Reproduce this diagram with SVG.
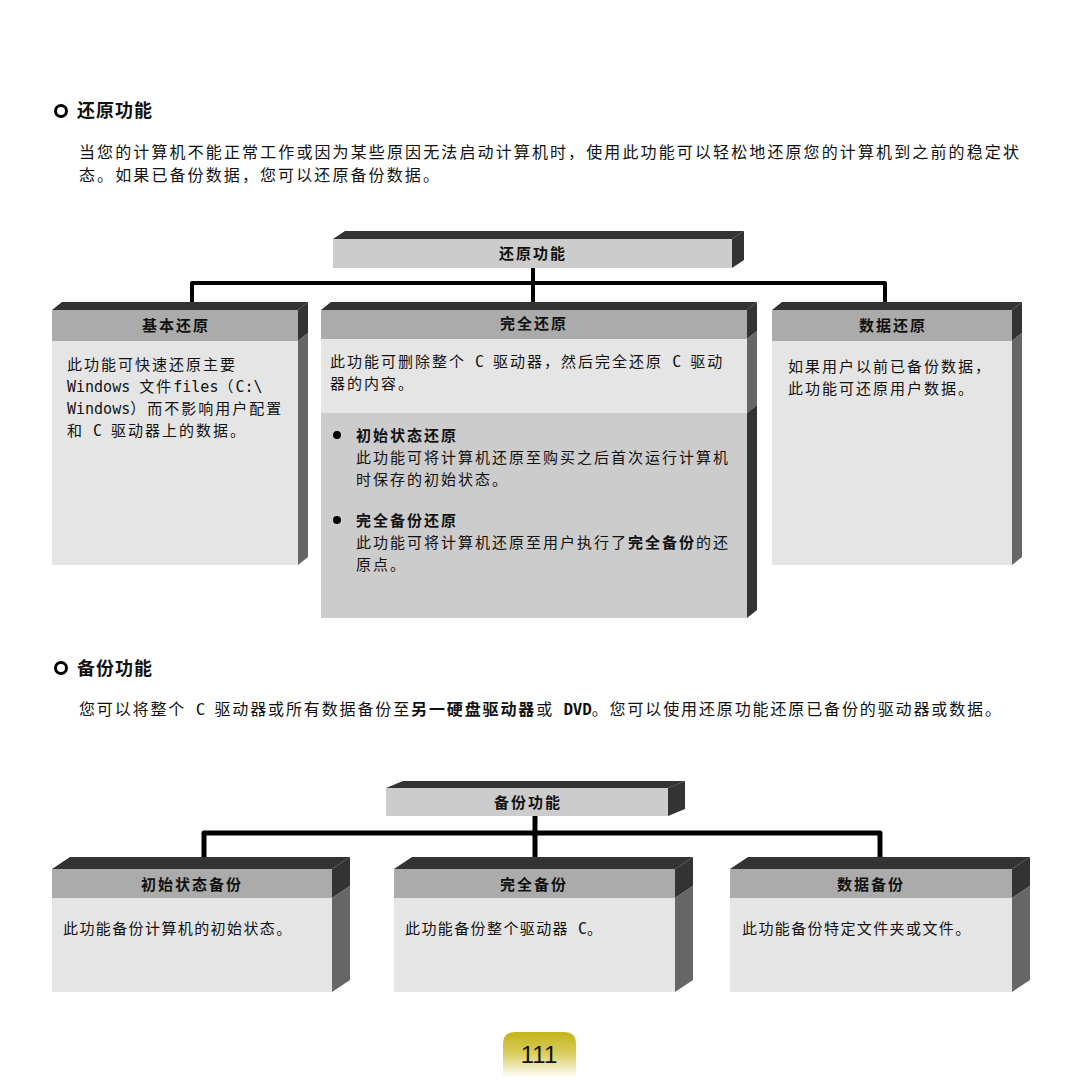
<svg xmlns="http://www.w3.org/2000/svg" width="1080" height="1080" viewBox="0 0 1080 1080">
<defs>
<linearGradient id="badge" x1="0" y1="0" x2="0" y2="1">
<stop offset="0" stop-color="#c4b418"/>
<stop offset="0.45" stop-color="#d8cc5a"/>
<stop offset="1" stop-color="#ffffff"/>
</linearGradient>
<style>
text{font-family:"Noto Sans CJK SC","Noto Sans",sans-serif;fill:#111;}
.h1{font-size:18px;font-weight:bold;letter-spacing:1px;}
.p{font-size:16px;letter-spacing:2.1px;}
.hd{font-size:15px;font-weight:bold;letter-spacing:2px;text-anchor:middle;}
.b{font-size:15px;letter-spacing:2px;}
.bb{font-size:15px;letter-spacing:1.4px;}
.lat{font-family:"DejaVu Sans Mono","Liberation Mono",monospace;letter-spacing:0px;}
.bold{font-weight:bold;}
.top{fill:#333333;}
.sd{fill:#333333;}
.sg{fill:#666666;}
.hdr{fill:#ababab;}
.body{fill:#e5e5e5;}
.mid{fill:#cccccc;}
.ring{fill:none;stroke:#000;stroke-width:3;}
.conn{fill:none;stroke:#000;stroke-linejoin:round;stroke-linecap:butt;}
</style>
</defs>
<rect width="1080" height="1080" fill="#ffffff"/>

<!-- Section 1 -->
<circle class="ring" cx="61" cy="111" r="5.5"/>
<text class="h1" x="77" y="117">还原功能</text>
<text class="p" x="79" y="158" textLength="942" lengthAdjust="spacing">当您的计算机不能正常工作或因为某些原因无法启动计算机时，使用此功能可以轻松地还原您的计算机到之前的稳定状</text>
<text class="p" x="79" y="181">态。如果已备份数据，您可以还原备份数据。</text>

<!-- Connectors top diagram -->
<g id="connectors-restore">
<path class="conn" stroke-width="4" d="M192,303 V283 H885 V303"/>
<path class="conn" stroke-width="4" d="M533,268 V303"/>
</g>

<g id="node-restore">
<polygon class="top" points="333,239 345,231 744,231 732,239"/>
<polygon class="sd" points="732,239 744,231 744,260 732,268"/>
<rect class="mid" x="333" y="239" width="399" height="29"/>
<text class="hd" x="533" y="259">还原功能</text>
</g>

<g id="node-basic">
<polygon class="top" points="52,310 62,302 308,302 298,310"/>
<polygon class="sd" points="298,310 308,302 308,333 298,341"/>
<polygon class="sg" points="298,341 308,333 308,557 298,565"/>
<rect class="hdr" x="52" y="310" width="246" height="31"/>
<rect class="body" x="52" y="341" width="246" height="224"/>
<text class="hd" x="176" y="331">基本还原</text>
<text class="b" x="67" y="370">此功能可快速还原主要</text>
<text class="b" x="67" y="392"><tspan class="lat">Windows </tspan>文件<tspan class="lat">files</tspan>（<tspan class="lat">C:\</tspan></text>
<text class="b" x="67" y="414"><tspan class="lat">Windows</tspan>）而不影响用户配置</text>
<text class="b" x="67" y="436">和<tspan class="lat"> C </tspan>驱动器上的数据。</text>
</g>

<g id="node-full">
<polygon class="top" points="321,310 331,302 757,302 747,310"/>
<polygon class="sd" points="747,310 757,302 757,331 747,339"/>
<polygon class="sg" points="747,339 757,331 757,405 747,413"/>
<polygon class="sd" points="747,413 757,405 757,610 747,618"/>
<rect class="hdr" x="321" y="310" width="426" height="29"/>
<rect class="body" x="321" y="339" width="426" height="74"/>
<rect class="mid" x="321" y="413" width="426" height="205"/>
<text class="hd" x="534" y="329">完全还原</text>
<text class="b" x="330" y="367">此功能可删除整个<tspan class="lat"> C </tspan>驱动器，然后完全还原<tspan class="lat"> C </tspan>驱动</text>
<text class="b" x="330" y="389">器的内容。</text>
<circle cx="337" cy="435" r="4" fill="#000"/>
<text class="b bold" x="356" y="441">初始状态还原</text>
<text class="b" x="356" y="463">此功能可将计算机还原至购买之后首次运行计算机</text>
<text class="b" x="356" y="485">时保存的初始状态。</text>
<circle cx="337" cy="520" r="4" fill="#000"/>
<text class="b bold" x="356" y="526">完全备份还原</text>
<text class="b" x="356" y="548">此功能可将计算机还原至用户执行了<tspan class="bold">完全备份</tspan>的还</text>
<text class="b" x="356" y="570">原点。</text>
</g>

<g id="node-data">
<polygon class="top" points="772,310 782,302 1022,302 1012,310"/>
<polygon class="sd" points="1012,310 1022,302 1022,333 1012,341"/>
<polygon class="sg" points="1012,341 1022,333 1022,557 1012,565"/>
<rect class="hdr" x="772" y="310" width="240" height="31"/>
<rect class="body" x="772" y="341" width="240" height="224"/>
<text class="hd" x="893" y="331">数据还原</text>
<text class="b" x="788" y="372">如果用户以前已备份数据，</text>
<text class="b" x="788" y="394">此功能可还原用户数据。</text>
</g>

<!-- Section 2 -->
<circle class="ring" cx="61" cy="668" r="5.5"/>
<text class="h1" x="77" y="675">备份功能</text>
<text class="p" x="79" y="715" textLength="924" lengthAdjust="spacing">您可以将整个<tspan class="lat"> C </tspan>驱动器或所有数据备份至<tspan class="bold">另一硬盘驱动器</tspan>或<tspan class="lat bold"> DVD</tspan>。您可以使用还原功能还原已备份的驱动器或数据。</text>

<g id="connectors-backup">
<path class="conn" stroke-width="5" d="M204,863 V833 H880 V863"/>
<path class="conn" stroke-width="5" d="M535,816 V863"/>
</g>

<g id="node-backup">
<polygon class="top" points="386,788 403,781 685,781 668,788"/>
<polygon class="sd" points="668,788 685,781 685,809 668,816"/>
<rect class="mid" x="386" y="788" width="282" height="28"/>
<text class="hd" x="528" y="808">备份功能</text>
</g>

<g id="node-initial-backup">
<polygon class="top" points="52,869 70,857 350,857 332,869"/>
<polygon class="sd" points="332,869 350,857 350,886 332,898"/>
<polygon class="sg" points="332,898 350,886 350,980 332,992"/>
<rect class="hdr" x="52" y="869" width="280" height="29"/>
<rect class="body" x="52" y="898" width="280" height="94"/>
<text class="hd" x="192" y="890">初始状态备份</text>
<text class="bb" x="63" y="934">此功能备份计算机的初始状态。</text>
</g>

<g id="node-full-backup">
<polygon class="top" points="394,869 412,857 693,857 675,869"/>
<polygon class="sd" points="675,869 693,857 693,886 675,898"/>
<polygon class="sg" points="675,898 693,886 693,980 675,992"/>
<rect class="hdr" x="394" y="869" width="281" height="29"/>
<rect class="body" x="394" y="898" width="281" height="94"/>
<text class="hd" x="534" y="890">完全备份</text>
<text class="bb" x="405" y="934">此功能备份整个驱动器<tspan class="lat"> C</tspan>。</text>
</g>

<g id="node-data-backup">
<polygon class="top" points="730,869 748,857 1030,857 1012,869"/>
<polygon class="sd" points="1012,869 1030,857 1030,886 1012,898"/>
<polygon class="sg" points="1012,898 1030,886 1030,980 1012,992"/>
<rect class="hdr" x="730" y="869" width="282" height="29"/>
<rect class="body" x="730" y="898" width="282" height="94"/>
<text class="hd" x="871" y="890">数据备份</text>
<text class="bb" x="742" y="934">此功能备份特定文件夹或文件。</text>
</g>

<!-- page badge -->
<path d="M503,1078 V1044 Q503,1032 515,1032 H564 Q576,1032 576,1044 V1078 Z" fill="url(#badge)"/>
<text x="539" y="1063" style="font-family:'Liberation Sans',sans-serif;font-size:24px;text-anchor:middle;fill:#111;">111</text>
</svg>
